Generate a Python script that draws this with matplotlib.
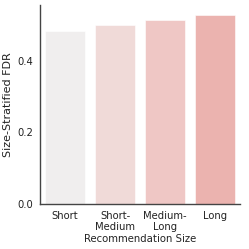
import matplotlib
matplotlib.use("Agg")
import matplotlib.pyplot as plt

categories = ["Short", "Short-\nMedium", "Medium-\nLong", "Long"]
values = [0.483, 0.502, 0.516, 0.529]
colors = ["#f0eeee", "#f0dad8", "#efc7c5", "#ebb3af"]
yticks = [0.0, 0.2, 0.4]

plt.rcParams['font.family'] = ['DejaVu Sans']
fig = plt.figure(figsize=(2.49, 2.49), dpi=100)
ax = fig.add_axes([40/249, 1-203.7/249, 200/249, (203.7-5)/249])
x = range(len(categories))
ax.bar(x, values, width=0.8, color=colors, edgecolor="white", linewidth=0.4)
ax.set_xlim(-0.5, len(categories)-0.5)
ax.set_ylim(0, max(values)*1.053)
ax.set_xticks(list(x))
ax.set_xticklabels(categories, fontsize=7.2, linespacing=1.15)
ax.set_yticks(yticks)
ax.set_yticklabels([f"{v:.1f}" for v in yticks], fontsize=7.2)
ax.tick_params(axis="x", length=0, pad=5, colors="#222222")
ax.tick_params(axis="y", length=0, pad=5, colors="#222222")
ax.set_xlabel("Recommendation Size", fontsize=7.3, labelpad=1.2, color="#222222")
ax.set_ylabel("Size-Stratified FDR", fontsize=8, labelpad=3, color="#222222")
for s in ["top", "right"]:
    ax.spines[s].set_visible(False)
for s in ["left", "bottom"]:
    ax.spines[s].set_color("#444444")
    ax.spines[s].set_linewidth(1.0)
fig.savefig("out.png", dpi=100)
